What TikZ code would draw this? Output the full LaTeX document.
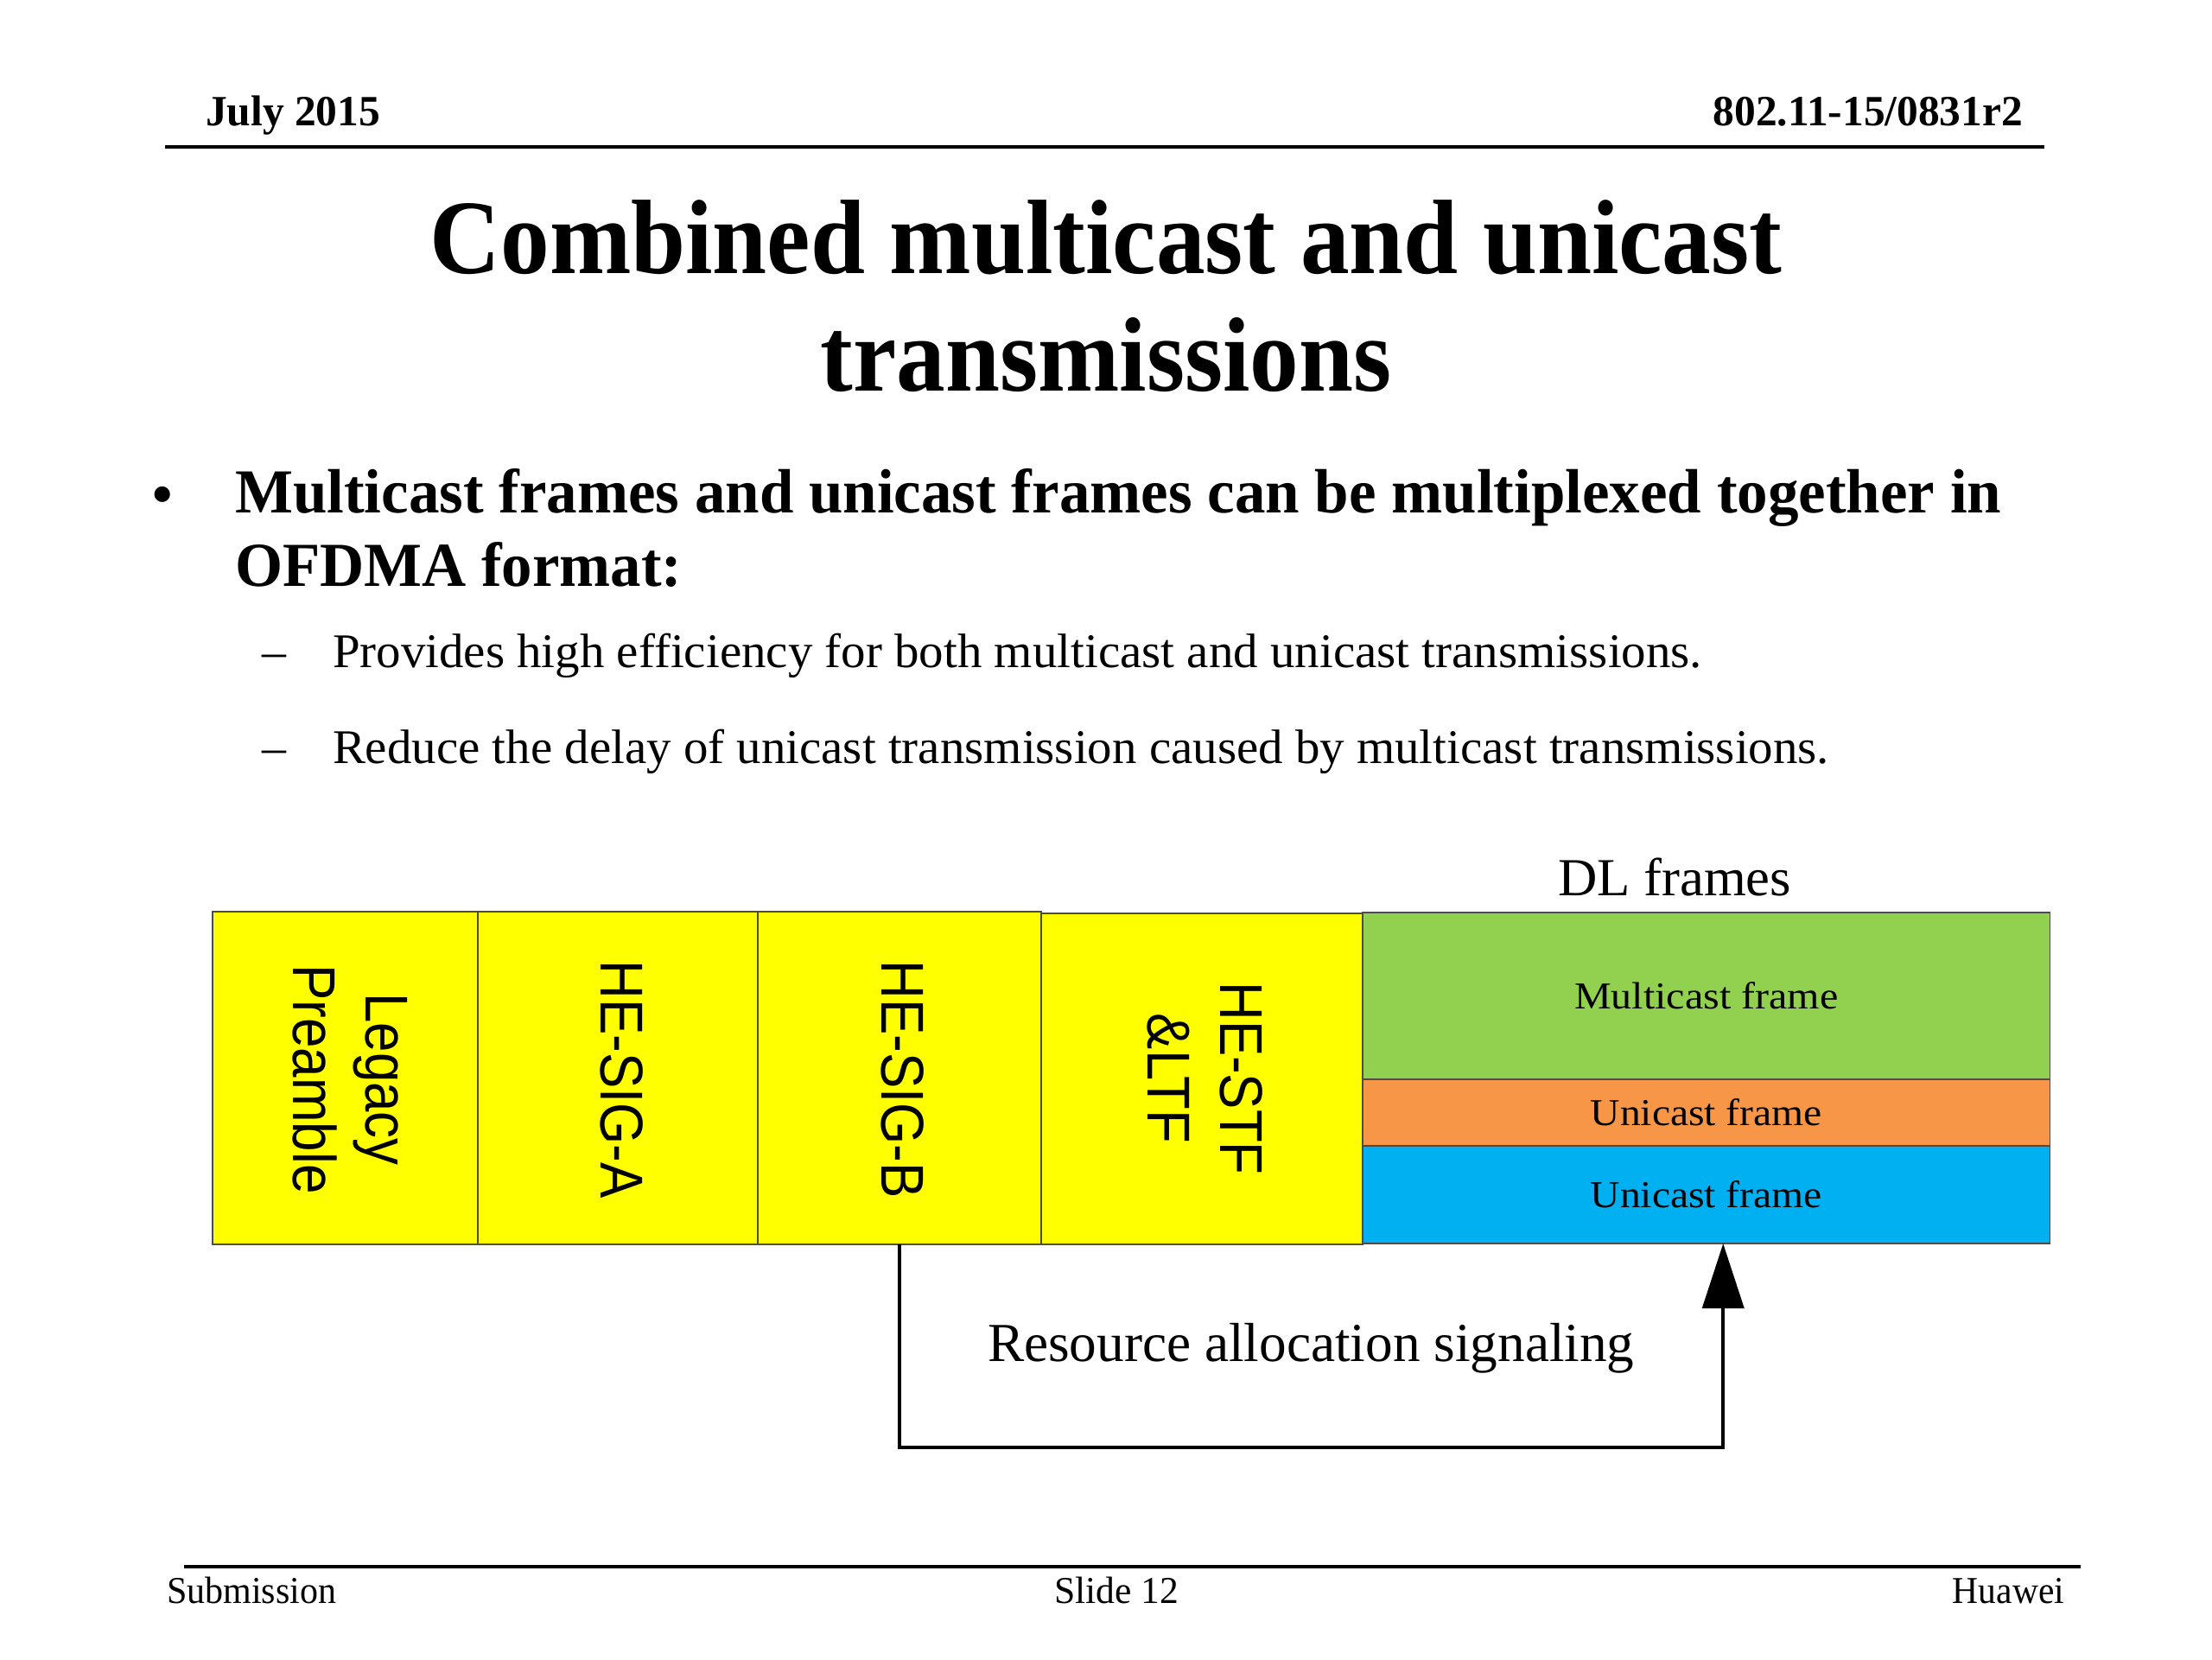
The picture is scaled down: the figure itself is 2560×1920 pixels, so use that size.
\documentclass[tikz,border=0pt]{standalone}
\usepackage{fontspec}
\usepackage{graphicx}
\setmainfont{Liberation Serif}
\newfontfamily\sansf{Liberation Sans}
\usetikzlibrary{arrows.meta}
\newcommand{\fw}[2]{\resizebox{#1cm}{\height}{#2}}
\definecolor{hyellow}{HTML}{FFFF00}
\definecolor{hgreen}{HTML}{92D050}
\definecolor{horange}{HTML}{F79646}
\definecolor{hblue}{HTML}{00B0F0}
\tikzset{
  txt/.style={inner sep=0pt, outer sep=0pt},
  hdr/.style={txt, font=\bfseries\fontsize{14.2}{17}\selectfont},
  ftr/.style={txt, font=\fontsize{12.5}{15}\selectfont},
  ttl/.style={txt, anchor=base, font=\bfseries\fontsize{34.8}{40}\selectfont},
  blt/.style={txt, anchor=base west, font=\bfseries\fontsize{20.6}{24}\selectfont},
  sub/.style={txt, anchor=base west, font=\fontsize{15.9}{19}\selectfont},
  fbox/.style={draw=black!70, line width=0.5pt, inner sep=0pt, outer sep=0pt, anchor=north west,
     font=\fontsize{12.5}{15}\selectfont},
  rtxt/.style={txt, rotate=-90, align=center, font=\sansf\fontsize{19.9}{23.9}\selectfont},
  sig/.style={line width=1.1pt, line join=miter},
  rule/.style={line width=1.1pt}
}
\begin{document}
\begin{tikzpicture}[x=0.01cm, y=-0.01cm]
\useasboundingbox (0,0) rectangle (2560,1920);
\fill[white] (0,0) rectangle (2560,1920);

% header
\node[hdr, anchor=base west] (date) at (238,145) {\fw{2.02}{July 2015}};
\node[hdr, anchor=base east] (docid) at (2341,145) {\fw{3.58}{802.11-15/0831r2}};
\draw[rule] (191,170) -- (2366,170);

% title
\node[ttl] (t1) at (1280,316) {\fw{15.64}{Combined multicast and unicast}};
\node[ttl] (t2) at (1280,452) {\fw{6.60}{transmissions}};

% bullets
\node[txt, font=\bfseries\fontsize{19}{24}\selectfont] (bdot) at (188,579) {•};
\node[blt] (b1) at (272,593) {\fw{20.43}{Multicast frames and unicast frames can be multiplexed together in}};
\node[blt] (b2) at (272,678) {\fw{5.17}{OFDMA format:}};
\node[sub] (d1) at (303,772) {–};
\node[sub] (s1) at (385,772) {\fw{15.84}{Provides high efficiency for both multicast and unicast transmissions.}};
\node[sub] (d2) at (303,883) {–};
\node[sub] (s2) at (385,883) {\fw{17.31}{Reduce the delay of unicast transmission caused by multicast transmissions.}};

% diagram boxes
\node[fbox, fill=hyellow, minimum width=3.07cm, minimum height=3.85cm] (leg) at (246,1055) {};
\node[fbox, fill=hyellow, minimum width=3.24cm, minimum height=3.85cm] (siga) at (553,1055) {};
\node[fbox, fill=hyellow, minimum width=3.28cm, minimum height=3.85cm] (sigb) at (877,1055) {};
\node[fbox, fill=hyellow, minimum width=3.72cm, minimum height=3.83cm] (stf) at (1205,1057) {};
\node[fbox, fill=hgreen, minimum width=7.95cm, minimum height=1.93cm] (mc) at (1577,1056) {\fw{3.05}{Multicast frame}};
\node[fbox, fill=horange, minimum width=7.95cm, minimum height=0.77cm] (uc1) at (1577,1249) {\fw{2.68}{Unicast frame}};
\node[fbox, fill=hblue, minimum width=7.95cm, minimum height=1.13cm] (uc2) at (1577,1326) {\fw{2.68}{Unicast frame}};

% rotated labels
\node[rtxt] (legt) at (405,1249) {\fw{1.99}{Legacy}\\\fw{2.65}{Preamble}};
\node[rtxt] (sigat) at (720,1249) {\fw{2.75}{HE-SIG-A}};
\node[rtxt] (sigbt) at (1045,1249) {\fw{2.75}{HE-SIG-B}};
\node[rtxt] (stft) at (1395,1248) {\fw{2.23}{HE-STF}\\\fw{1.50}{\&LTF}};

\node[txt, anchor=base west, font=\fontsize{17.6}{21}\selectfont] (dl) at (1803,1036) {\fw{2.70}{DL frames}};

% signaling arrow
\coordinate (tgt) at ([xshift=0.195cm]uc2.south);
\draw[sig, -{Triangle[length=7.5mm, width=4.8mm]}] (sigb.south) -- ++(0,235) -| (tgt);
\node[txt, anchor=base west, font=\fontsize{18.1}{22}\selectfont] (ras) at (1143,1575) {\fw{7.48}{Resource allocation signaling}};

% footer
\draw[line width=0.9pt] (213,1813) -- (2408,1813);
\node[ftr, anchor=base west] (subm) at (193,1855) {\fw{1.96}{Submission}};
\node[ftr, anchor=base west] (slide) at (1220,1855) {\fw{1.44}{Slide 12}};
\node[ftr, anchor=base east] (hw) at (2389,1855) {\fw{1.29}{Huawei}};
\end{tikzpicture}
\end{document}
